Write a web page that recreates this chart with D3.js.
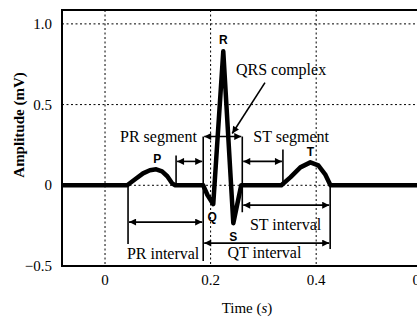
<!DOCTYPE html>
<html>
<head>
<meta charset="utf-8">
<script src="https://cdn.jsdelivr.net/npm/d3@7"></script>
<style>
  body { margin: 0; background: #fff; }
  svg { display: block; }
</style>
</head>
<body>
<svg id="chart"></svg>
<script>
// ECG trace, time (s) / amplitude (mV)
const ecgTime = [-0.09, 0.042, 0.057, 0.072, 0.085, 0.097, 0.108, 0.118, 0.127, 0.133,
  0.186, 0.194, 0.205, 0.224, 0.243, 0.258,
  0.334, 0.351, 0.370, 0.389, 0.404, 0.417, 0.427, 0.70];
const ecgAmp = [0, 0, 0.037, 0.074, 0.093, 0.099, 0.086, 0.056, 0.012, 0,
  0, -0.06, -0.117, 0.83, -0.235, 0,
  0, 0.049, 0.111, 0.142, 0.123, 0.068, 0, 0];

const xTicks = [0, 0.2, 0.4, 0.6];
const yTicks = [-0.5, 0, 0.5, 1.0];
const xGrid = [0, 0.2, 0.4, 0.6];
const yGrid = [0, 0.5, 1.0];

// vertical marker lines: time, from amp, to amp
const markers = [
  [0.0436, 0, -0.364],
  [0.1346, 0.185, 0],
  [0.186, 0.302, -0.469],
  [0.260, 0.302, -0.167],
  [0.337, 0.222, 0],
  [0.4265, 0, -0.395]
];

// double-headed spans: from time, to time, amp
const spans = [
  [0.1346, 0.186, 0.148],   // PR segment
  [0.186, 0.260, 0.302],    // QRS
  [0.260, 0.337, 0.148],    // ST segment
  [0.0436, 0.186, -0.228],  // PR interval
  [0.260, 0.4265, -0.123],  // ST interval
  [0.186, 0.4265, -0.358]   // QT interval
];

const spanLabels = [
  { text: "PR segment", t: 0.174, a: 0.302, anchor: "end" },
  { text: "QRS complex", t: 0.248, a: 0.716, anchor: "start" },
  { text: "ST segment", t: 0.281, a: 0.305, anchor: "start" },
  { text: "PR interval", t: 0.110, a: -0.42, anchor: "middle" },
  { text: "ST interval", t: 0.342, a: -0.241, anchor: "middle" },
  { text: "QT interval", t: 0.302, a: -0.414, anchor: "middle" }
];

const waveLabels = [
  { text: "P", t: 0.099, a: 0.16 },
  { text: "R", t: 0.224, a: 0.90 },
  { text: "T", t: 0.389, a: 0.205 },
  { text: "Q", t: 0.203, a: -0.198 },
  { text: "S", t: 0.243, a: -0.321 }
];

const qrsPointer = [[0.303, 0.636], [0.241, 0.321]];

const W = 417, H = 318;
const margin = { top: 10, left: 62, bottom: 52 };
const innerW = 402;
const innerH = H - margin.top - margin.bottom;

const svg = d3.select("#chart").attr("width", W).attr("height", H);

const x = d3.scaleLinear().domain([-0.0815, 0.68]).range([margin.left, margin.left + innerW]);
const y = d3.scaleLinear().domain([-0.5, 1.086]).range([margin.top + innerH, margin.top]);

const defs = svg.append("defs");
defs.append("clipPath").attr("id", "clip")
  .append("rect")
  .attr("x", margin.left).attr("y", margin.top)
  .attr("width", innerW).attr("height", innerH);

defs.append("marker")
  .attr("id", "head")
  .attr("viewBox", "0 0 10 10")
  .attr("refX", 10).attr("refY", 5)
  .attr("markerWidth", 8).attr("markerHeight", 7)
  .attr("markerUnits", "userSpaceOnUse")
  .attr("orient", "auto-start-reverse")
  .append("path")
  .attr("d", "M0,0 L10,5 L0,10 z")
  .attr("fill", "#000");

const plot = svg.append("g").attr("clip-path", "url(#clip)");

// dotted grid
plot.selectAll(".hgrid").data(yGrid).enter().append("line")
  .attr("x1", margin.left).attr("x2", margin.left + innerW)
  .attr("y1", d => y(d)).attr("y2", d => y(d))
  .attr("stroke", "#000").attr("stroke-width", 1)
  .attr("stroke-dasharray", "2,2.5");
plot.selectAll(".vgrid").data(xGrid).enter().append("line")
  .attr("x1", d => x(d)).attr("x2", d => x(d))
  .attr("y1", margin.top).attr("y2", margin.top + innerH)
  .attr("stroke", "#000").attr("stroke-width", 1)
  .attr("stroke-dasharray", "2,2.5");

// marker lines
plot.selectAll(".marker").data(markers).enter().append("line")
  .attr("x1", d => x(d[0])).attr("x2", d => x(d[0]))
  .attr("y1", d => y(d[1])).attr("y2", d => y(d[2]))
  .attr("stroke", "#000").attr("stroke-width", 1.6);

// spans with arrowheads
plot.selectAll(".span").data(spans).enter().append("line")
  .attr("x1", d => x(d[0]) + 1).attr("x2", d => x(d[1]) - 1)
  .attr("y1", d => y(d[2])).attr("y2", d => y(d[2]))
  .attr("stroke", "#000").attr("stroke-width", 1.6)
  .attr("marker-start", "url(#head)")
  .attr("marker-end", "url(#head)");

plot.append("line")
  .attr("x1", x(qrsPointer[0][0])).attr("y1", y(qrsPointer[0][1]))
  .attr("x2", x(qrsPointer[1][0])).attr("y2", y(qrsPointer[1][1]))
  .attr("stroke", "#000").attr("stroke-width", 1.6)
  .attr("marker-end", "url(#head)");

// ECG trace
const ecg = ecgTime.map((t, i) => [t, ecgAmp[i]]);
plot.append("path")
  .datum(ecg)
  .attr("d", d3.line().x(d => x(d[0])).y(d => y(d[1])))
  .attr("fill", "none")
  .attr("stroke", "#000")
  .attr("stroke-width", 4.5)
  .attr("stroke-linejoin", "round");

// frame
svg.append("path")
  .attr("d", `M${margin.left + innerW},${margin.top} H${margin.left} V${margin.top + innerH} H${margin.left + innerW}`)
  .attr("fill", "none").attr("stroke", "#000").attr("stroke-width", 2);

const serif = "'Liberation Serif', 'Times New Roman', serif";

svg.selectAll(".spanlabel").data(spanLabels).enter().append("text")
  .attr("x", d => x(d.t)).attr("y", d => y(d.a))
  .attr("text-anchor", d => d.anchor)
  .attr("dominant-baseline", "central")
  .attr("font-family", serif).attr("font-size", 16)
  .text(d => d.text);

svg.selectAll(".wavelabel").data(waveLabels).enter().append("text")
  .attr("x", d => x(d.t)).attr("y", d => y(d.a))
  .attr("text-anchor", "middle")
  .attr("dominant-baseline", "central")
  .attr("font-family", "'Liberation Sans', Arial, sans-serif")
  .attr("font-weight", "bold").attr("font-size", 12)
  .text(d => d.text);

// tick labels
svg.selectAll(".ytick").data(yTicks).enter().append("text")
  .attr("x", margin.left - 10).attr("y", d => y(d))
  .attr("text-anchor", "end").attr("dominant-baseline", "central")
  .attr("font-family", serif).attr("font-size", 15)
  .text(d => d === 0 ? "0" : d3.format(".1f")(d));

svg.selectAll(".xtick").data(xTicks).enter().append("text")
  .attr("x", d => x(d)).attr("y", margin.top + innerH + 14)
  .attr("text-anchor", "middle").attr("dominant-baseline", "central")
  .attr("font-family", serif).attr("font-size", 15)
  .text(d => d === 0 ? "0" : d3.format(".1f")(d));

const xl = svg.append("text")
  .attr("x", 247).attr("y", 308)
  .attr("text-anchor", "middle").attr("dominant-baseline", "central")
  .attr("font-family", serif).attr("font-size", 15);
xl.append("tspan").text("Time (");
xl.append("tspan").attr("font-style", "italic").text("s");
xl.append("tspan").text(")");

svg.append("text")
  .attr("transform", "translate(19," + 125 + ") rotate(-90)")
  .attr("text-anchor", "middle").attr("dominant-baseline", "central")
  .attr("font-family", serif).attr("font-size", 15).attr("font-weight", "bold")
  .text("Amplitude (mV)");
</script>
</body>
</html>
